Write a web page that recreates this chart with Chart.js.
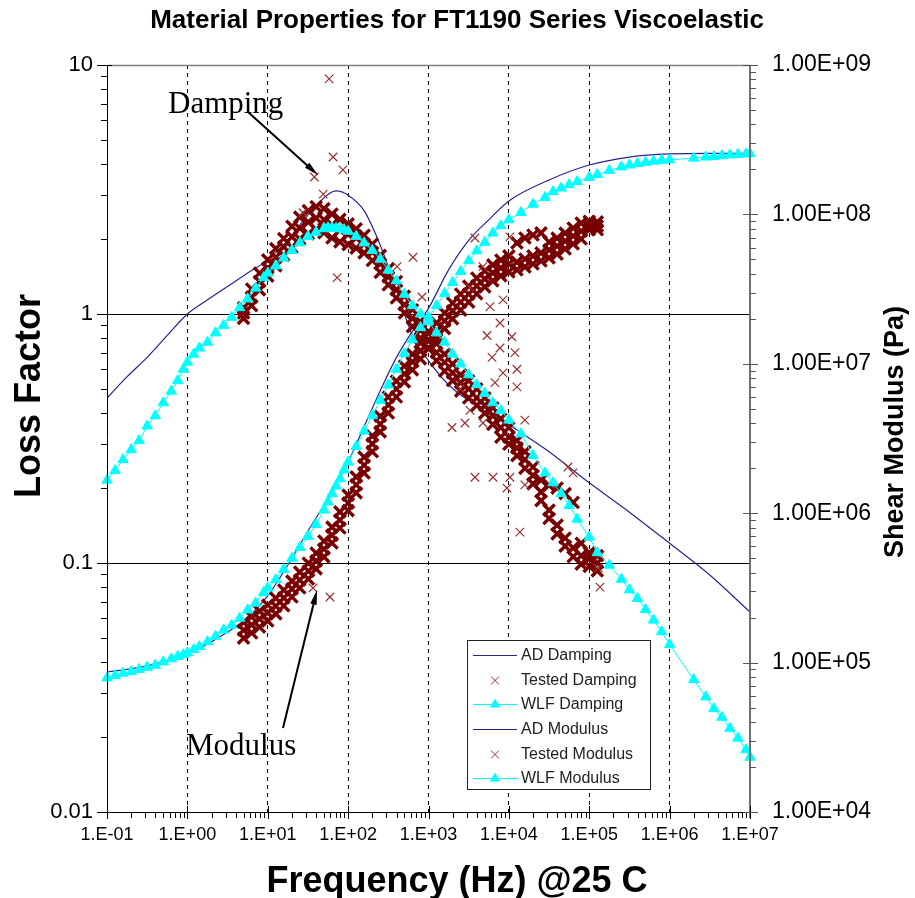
<!DOCTYPE html>
<html><head><meta charset="utf-8">
<script src="https://cdn.jsdelivr.net/npm/chart.js@4.4.0/dist/chart.umd.min.js"></script>
<style>html,body{margin:0;padding:0;background:#fff}#wrap{width:915px;height:898px}</style>
</head><body><div id="wrap"><canvas id="c" width="915" height="898"></canvas></div>
<script>
// ---------- tick labels ----------
const xTickValues = [1e-1, 1e0, 1e1, 1e2, 1e3, 1e4, 1e5, 1e6, 1e7];
const xTickLabels = ['1.E-01','1.E+00','1.E+01','1.E+02','1.E+03','1.E+04','1.E+05','1.E+06','1.E+07'];
const lfTickValues = [0.01, 0.1, 1, 10];
const lfTickLabels = ['0.01','0.1','1','10'];
const gTickValues = [1e4, 1e5, 1e6, 1e7, 1e8, 1e9];
const gTickLabels = ['1.00E+04','1.00E+05','1.00E+06','1.00E+07','1.00E+08','1.00E+09'];
const minorSteps = [2,3,4,5,6,7,8,9];

// ---------- AD (analytical) curves ----------
const adHz = [0.1,0.178,0.316,0.562,1,1.78,3.16,5.62,10,17.8,31.6,56.2,70.8,100,158,251,398,631,1000,1778,3162,5623,1e4,31623,1e5,316228,1e6,3.16e6,1e7];
const adDamping = [0.46,0.56,0.67,0.82,1.0,1.14,1.29,1.46,1.65,1.98,2.5,3.02,3.12,3.0,2.6,1.89,1.25,0.82,0.65,0.52,0.45,0.41,0.36,0.28,0.21,0.16,0.12,0.0895,0.0635];
const adModulus = [8.65e4,9.0e4,9.5e4,1.03e5,1.14e5,1.33e5,1.6e5,2.0e5,2.8e5,4.5e5,7.6e5,1.25e6,1.55e6,2.2e6,3.8e6,6.6e6,1.1e7,1.65e7,2.35e7,4.25e7,6.7e7,9.2e7,1.23e8,1.7e8,2.14e8,2.42e8,2.54e8,2.56e8,2.56e8];

// ---------- WLF curves ----------
const wlfHz = [0.1,0.126,0.158,0.2,0.251,0.316,0.398,0.501,0.631,0.759,0.891,1,1.2,1.41,1.78,2.24,2.82,3.55,4.47,5.62,7.08,8.91,10,12.6,15.8,20,25.1,31.6,39.8,50.1,56.2,63.1,70.8,79.4,89.1,100,126,158,200,251,316,398,501,631,794,1000,1259,1585,1995,2512,3162,3981,5012,6310,7943,1e4,14125,19953,28184,35481,44668,56234,70795,1e5,125893,177828,251189,316228,398107,501187,630957,794328,1e6,1.995e6,2.818e6,3.548e6,4.467e6,5.623e6,7.079e6,8.913e6,1e7];
const wlfDamping = [0.215,0.235,0.26,0.285,0.31,0.355,0.39,0.44,0.49,0.54,0.6,0.64,0.69,0.73,0.77,0.84,0.9,0.97,1.06,1.15,1.27,1.4,1.46,1.56,1.68,1.8,1.93,2.05,2.13,2.2,2.22,2.22,2.21,2.2,2.18,2.15,2.05,1.93,1.8,1.66,1.5,1.36,1.2,1.08,1.0,0.93,0.84,0.77,0.69,0.63,0.57,0.52,0.48,0.44,0.41,0.375,0.33,0.27,0.23,0.21,0.19,0.17,0.15,0.127,0.11,0.098,0.086,0.078,0.072,0.065,0.059,0.053,0.047,0.034,0.029,0.026,0.024,0.0217,0.0198,0.0178,0.0166];
const wlfModulus = [7.9e4,8.2e4,8.5e4,8.7e4,9.0e4,9.3e4,9.6e4,1.01e5,1.06e5,1.1e5,1.13e5,1.16e5,1.22e5,1.28e5,1.38e5,1.5e5,1.65e5,1.78e5,1.98e5,2.25e5,2.5e5,2.95e5,3.16e5,3.6e5,4.2e5,5.0e5,5.9e5,7.0e5,8.4e5,1.05e6,1.19e6,1.35e6,1.52e6,1.7e6,1.95e6,2.2e6,2.8e6,3.55e6,4.5e6,5.7e6,7.2e6,9.2e6,1.17e7,1.45e7,1.75e7,2.05e7,2.45e7,2.95e7,3.5e7,4.15e7,4.9e7,5.7e7,6.5e7,7.5e7,8.4e7,9.2e7,1.03e8,1.17e8,1.3e8,1.42e8,1.5e8,1.58e8,1.66e8,1.77e8,1.85e8,1.97e8,2.08e8,2.14e8,2.19e8,2.23e8,2.27e8,2.3e8,2.32e8,2.38e8,2.42e8,2.44e8,2.47e8,2.5e8,2.52e8,2.54e8,2.55e8];

// ---------- Tested data (dense band: upper / middle / lower readings) ----------
const testedHz = [5.0,6.3,7.9,10,12.6,15.8,20,25,32,40,50,63,79,100,126,158,200,251,316,398,501,631,794,1000,1259,1585,1995,2512,3162,3981,5012,6310,7943,10000,12589,15849,19953,25119,31623,39811,50119,63096,79433,100000,125893];
const testedDampingMid = [1.01,1.17,1.35,1.53,1.69,1.86,2.04,2.21,2.34,2.43,2.39,2.28,2.17,2.09,2.02,1.91,1.77,1.59,1.41,1.25,1.09,0.96,0.86,0.79,0.70,0.64,0.58,0.53,0.50,0.46,0.43,0.39,0.35,0.32,0.29,0.26,0.225,0.193,0.163,0.142,0.126,0.115,0.107,0.104,0.100];
const testedDampingUpper = [1.06,1.26,1.46,1.65,1.83,2.01,2.25,2.45,2.6,2.7,2.65,2.52,2.4,2.3,2.2,2.07,1.91,1.72,1.52,1.35,1.18,1.04,0.93,0.85,0.76,0.69,0.63,0.57,0.54,0.50,0.46,0.42,0.38,0.35,0.31,0.28,0.243,0.215,0.205,0.2,0.19,0.175,0.12,0.11,0.107];
const testedDampingLower = [0.96,1.08,1.25,1.42,1.56,1.72,1.85,2.0,2.1,2.18,2.12,2.02,1.95,1.9,1.84,1.76,1.64,1.47,1.31,1.16,1.01,0.89,0.80,0.73,0.65,0.59,0.54,0.49,0.46,0.43,0.40,0.36,0.32,0.30,0.27,0.24,0.208,0.178,0.151,0.131,0.117,0.106,0.099,0.097,0.093];
const testedModulusMid = [1.65e5,1.79e5,1.96e5,2.15e5,2.39e5,2.71e5,3.11e5,3.57e5,4.1e5,4.79e5,5.76e5,7.14e5,9.0e5,1.17e6,1.55e6,2.1e6,2.91e6,3.95e6,5.3e6,6.78e6,8.55e6,1.03e7,1.22e7,1.42e7,1.66e7,1.94e7,2.26e7,2.59e7,2.93e7,3.32e7,3.7e7,4.06e7,4.38e7,4.66e7,4.8e7,5.03e7,5.27e7,5.52e7,5.78e7,6.14e7,6.63e7,7.17e7,7.74e7,8.36e7,8.36e7];
const testedModulusUpper = [1.86e5,2.02e5,2.21e5,2.43e5,2.7e5,3.06e5,3.51e5,4.03e5,4.63e5,5.41e5,6.51e5,8.07e5,1.02e6,1.32e6,1.75e6,2.37e6,3.29e6,4.46e6,5.99e6,7.66e6,9.66e6,1.16e7,1.38e7,1.6e7,1.88e7,2.19e7,2.55e7,2.93e7,3.31e7,3.75e7,4.18e7,4.59e7,4.95e7,5.27e7,6.44e7,6.95e7,7.28e7,7.52e7,6.53e7,6.94e7,7.49e7,8.1e7,8.75e7,9.0e7,8.9e7];
const testedModulusLower = [1.46e5,1.58e5,1.73e5,1.9e5,2.12e5,2.4e5,2.75e5,3.16e5,3.63e5,4.24e5,5.1e5,6.32e5,7.96e5,1.04e6,1.37e6,1.86e6,2.58e6,3.5e6,4.69e6,6.0e6,7.57e6,9.12e6,1.08e7,1.26e7,1.47e7,1.72e7,2.0e7,2.29e7,2.59e7,2.94e7,3.27e7,3.59e7,3.88e7,4.12e7,4.25e7,4.45e7,4.66e7,4.88e7,5.12e7,5.43e7,5.87e7,6.35e7,6.85e7,7.9e7,7.9e7];

// scattered tested readings
const dampingScatterHz = [58,65,86,38,49,73,641,406,830,27.5,3785,10300,4750,3280,5820,8450,7760,5350,10900,11900,7760,6170,8450,12600,12600,6710,2470,3280,1960,2840,4760,15800,3790,6340,10300,9460,13700,15800,54300,62800,136000,129000,136000];
const dampingScatterLF = [8.8,4.27,3.79,3.55,3.03,1.40,1.69,1.55,1.17,2.55,2.02,2.04,1.55,1.28,1.07,1.14,0.92,0.82,0.81,0.70,0.73,0.67,0.58,0.60,0.51,0.53,0.50,0.41,0.35,0.365,0.365,0.375,0.221,0.221,0.221,0.20,0.133,0.206,0.243,0.23,0.080,0.0955,0.107];
const modulusScatterHz = [36.6,59.4];
const modulusScatterG = [3.16e5,2.75e5];

// ---------- build datasets ----------
const pts = (xs, ys) => xs.map((x, i) => ({x, y: ys[i]}));
const band = (xs, a, b, c) => pts(xs, a).concat(pts(xs, b), pts(xs, c));
const BAND_N = testedHz.length * 3;

const NAVY = '#26268f', CYAN = '#00ffff', MAROON = '#780000', MAROON_LIGHT = '#9a3030';
const seriesNames = ['AD Damping','Tested Damping','WLF Damping','AD Modulus','Tested Modulus','WLF Modulus'];
const inBand = c => c.dataIndex < BAND_N;
const bandRadius = c => inBand(c) ? 8 : 6;
const bandWidth = c => inBand(c) ? 3.4 : 1.2;
const bandColor = c => inBand(c) ? MAROON : MAROON_LIGHT;

const datasets = [
  {label: seriesNames[0], data: pts(adHz, adDamping), yAxisID: 'y', showLine: true, pointRadius: 0,
   borderColor: NAVY, borderWidth: 1.2, cubicInterpolationMode: 'monotone', order: 3},
  {label: seriesNames[1], data: band(testedHz, testedDampingMid, testedDampingUpper, testedDampingLower).concat(pts(dampingScatterHz, dampingScatterLF)),
   yAxisID: 'y', showLine: false, pointStyle: 'crossRot', pointRadius: bandRadius, pointBorderWidth: bandWidth,
   pointBorderColor: bandColor, borderColor: MAROON, backgroundColor: MAROON, order: 2, clip: false},
  {label: seriesNames[2], data: pts(wlfHz, wlfDamping), yAxisID: 'y', showLine: true, pointStyle: 'triangle', pointRadius: 6,
   borderColor: CYAN, backgroundColor: CYAN, pointBackgroundColor: CYAN, pointBorderColor: CYAN, borderWidth: 1, order: 1, clip: false},
  {label: seriesNames[3], data: pts(adHz, adModulus), yAxisID: 'y2', showLine: true, pointRadius: 0,
   borderColor: NAVY, borderWidth: 1.2, cubicInterpolationMode: 'monotone', order: 3},
  {label: seriesNames[4], data: band(testedHz, testedModulusMid, testedModulusUpper, testedModulusLower).concat(pts(modulusScatterHz, modulusScatterG)),
   yAxisID: 'y2', showLine: false, pointStyle: 'crossRot', pointRadius: bandRadius, pointBorderWidth: bandWidth,
   pointBorderColor: bandColor, borderColor: MAROON, backgroundColor: MAROON, order: 2, clip: false},
  {label: seriesNames[5], data: pts(wlfHz, wlfModulus), yAxisID: 'y2', showLine: true, pointStyle: 'triangle', pointRadius: 6,
   borderColor: CYAN, backgroundColor: CYAN, pointBackgroundColor: CYAN, pointBorderColor: CYAN, borderWidth: 1, order: 1, clip: false}
];

const SANS = '"Liberation Sans", Arial, Helvetica, sans-serif';
const SERIF = '"Liberation Serif", "Times New Roman", serif';

function arrow(ctx, x1, y1, x2, y2) {
  ctx.save();
  ctx.strokeStyle = '#000'; ctx.fillStyle = '#000'; ctx.lineWidth = 2;
  const a = Math.atan2(y2 - y1, x2 - x1), L = 15, s = 0.22;
  ctx.beginPath(); ctx.moveTo(x1, y1); ctx.lineTo(x2 - Math.cos(a) * 8, y2 - Math.sin(a) * 8); ctx.stroke();
  ctx.beginPath(); ctx.moveTo(x2, y2);
  ctx.lineTo(x2 - L * Math.cos(a - s), y2 - L * Math.sin(a - s));
  ctx.lineTo(x2 - L * Math.cos(a + s), y2 - L * Math.sin(a + s));
  ctx.closePath(); ctx.fill();
  ctx.restore();
}

const decor = {
  id: 'decor',
  afterDatasetsDraw(chart) {
    const ctx = chart.ctx, a = chart.chartArea;
    const xs = chart.scales.x, ys = chart.scales.y, y2 = chart.scales.y2;
    ctx.save();
    // frame
    ctx.lineWidth = 1.5; ctx.strokeStyle = '#808080';
    ctx.beginPath(); ctx.moveTo(a.left, a.top + 0.5); ctx.lineTo(a.right, a.top + 0.5); ctx.stroke();
    ctx.lineWidth = 2; ctx.strokeStyle = '#707070';
    ctx.beginPath(); ctx.moveTo(a.right, a.top); ctx.lineTo(a.right, a.bottom + 6); ctx.stroke();
    ctx.lineWidth = 1; ctx.strokeStyle = '#000';
    ctx.beginPath(); ctx.moveTo(a.left + 0.5, a.top); ctx.lineTo(a.left + 0.5, a.bottom); ctx.stroke();
    ctx.beginPath(); ctx.moveTo(a.left - 6, a.bottom + 0.5); ctx.lineTo(a.right, a.bottom + 0.5); ctx.stroke();
    // ticks
    ctx.beginPath();
    lfTickValues.forEach((v, i) => {
      const y = Math.round(ys.getPixelForValue(v)) + 0.5;
      ctx.moveTo(a.left - 10, y); ctx.lineTo(a.left + 5, y);
      if (i < lfTickValues.length - 1) minorSteps.forEach(m => {
        const yy = Math.round(ys.getPixelForValue(v * m)) + 0.5;
        ctx.moveTo(a.left - 6, yy); ctx.lineTo(a.left, yy);
      });
    });
    xTickValues.forEach((v, i) => {
      const x = Math.round(xs.getPixelForValue(v)) + 0.5;
      ctx.moveTo(x, a.bottom - 6); ctx.lineTo(x, a.bottom + 7);
      if (i < xTickValues.length - 1) minorSteps.forEach(m => {
        const xx = Math.round(xs.getPixelForValue(v * m)) + 0.5;
        ctx.moveTo(xx, a.bottom); ctx.lineTo(xx, a.bottom + 6);
      });
    });
    ctx.stroke();
    ctx.strokeStyle = '#555';
    ctx.beginPath();
    gTickValues.forEach((v, i) => {
      const y = Math.round(y2.getPixelForValue(v)) + 0.5;
      ctx.moveTo(a.right - 7, y); ctx.lineTo(a.right + 8, y);
      if (i < gTickValues.length - 1) minorSteps.forEach(m => {
        const yy = Math.round(y2.getPixelForValue(v * m)) + 0.5;
        ctx.moveTo(a.right, yy); ctx.lineTo(a.right + 6, yy);
      });
    });
    ctx.stroke();
    ctx.restore();
  },
  afterDraw(chart) {
    const ctx = chart.ctx;
    ctx.save();
    ctx.fillStyle = '#000';
    // title
    ctx.font = 'bold 26px ' + SANS; ctx.textAlign = 'center'; ctx.textBaseline = 'alphabetic';
    ctx.fillText('Material Properties for FT1190 Series Viscoelastic', 457, 28);
    // x axis title
    ctx.font = 'bold 36px ' + SANS;
    ctx.fillText('Frequency (Hz) @25 C', 457, 892);
    // left axis title
    ctx.save(); ctx.translate(40, 396); ctx.rotate(-Math.PI / 2);
    ctx.font = 'bold 36px ' + SANS; ctx.fillText('Loss Factor', 0, 0); ctx.restore();
    // right axis title
    ctx.save(); ctx.translate(903, 432); ctx.rotate(-Math.PI / 2);
    ctx.font = 'bold 27px ' + SANS; ctx.fillText('Shear Modulus (Pa)', 0, 0); ctx.restore();
    // annotations
    ctx.font = '31px ' + SERIF; ctx.textAlign = 'left';
    ctx.fillText('Damping', 168, 113);
    ctx.fillText('Modulus', 186, 755);
    arrow(ctx, 248, 112, 318, 175);
    arrow(ctx, 283, 728, 317, 590);
    // legend
    const L = {x: 467, y: 640, w: 183, h: 149};
    ctx.fillStyle = '#fff'; ctx.fillRect(L.x, L.y, L.w, L.h);
    ctx.strokeStyle = '#222'; ctx.lineWidth = 1;
    ctx.strokeRect(L.x + 0.5, L.y + 0.5, L.w, L.h);
    const rows = [655, 680, 704, 729, 754, 778];
    ctx.font = '16px ' + SANS; ctx.textBaseline = 'middle';
    chart.data.datasets.forEach((ds, i) => {
      const y = rows[i] + 0.5;
      if (ds.showLine) {
        ctx.strokeStyle = ds.borderColor; ctx.lineWidth = ds.borderWidth;
        ctx.beginPath(); ctx.moveTo(473, y); ctx.lineTo(517, y); ctx.stroke();
      }
      if (ds.pointStyle === 'triangle') {
        const r = 6;
        ctx.fillStyle = CYAN; ctx.beginPath();
        ctx.moveTo(495, y - r); ctx.lineTo(495 + r * 0.866, y + r * 0.5); ctx.lineTo(495 - r * 0.866, y + r * 0.5);
        ctx.closePath(); ctx.fill();
      } else if (ds.pointStyle === 'crossRot') {
        ctx.strokeStyle = '#a03030'; ctx.lineWidth = 1; const r = 4;
        ctx.beginPath(); ctx.moveTo(495 - r, y - r); ctx.lineTo(495 + r, y + r);
        ctx.moveTo(495 + r, y - r); ctx.lineTo(495 - r, y + r); ctx.stroke();
      }
      ctx.fillStyle = '#222';
      ctx.fillText(ds.label, 521, y);
    });
    ctx.restore();
  }
};

new Chart(document.getElementById('c'), {
  type: 'scatter',
  data: {datasets},
  options: {
    responsive: false, animation: false, devicePixelRatio: 1,
    layout: {padding: {top: 65, left: 0, right: 0, bottom: 0}},
    plugins: {legend: {display: false}, title: {display: false}, tooltip: {enabled: false}},
    scales: {
      x: {
        type: 'logarithmic', position: 'bottom', min: 0.1, max: 1e7,
        afterBuildTicks: s => { s.ticks = xTickValues.map(v => ({value: v})); },
        afterFit: s => { s.height = 86; },
        ticks: {autoSkip: false, maxRotation: 0, minRotation: 0, padding: 12, color: '#000',
                font: {family: SANS, size: 18}, callback: (v, i) => xTickLabels[i]},
        grid: {drawTicks: false, lineWidth: 1,
               color: c => (c.index > 0 && c.index < xTickValues.length - 1) ? '#000' : 'rgba(0,0,0,0)'},
        border: {display: false, dash: [4, 4]}
      },
      y: {
        type: 'logarithmic', position: 'left', min: 0.01, max: 10,
        afterBuildTicks: s => { s.ticks = lfTickValues.map(v => ({value: v})); },
        afterFit: s => { s.width = 107; },
        ticks: {autoSkip: false, padding: 14, color: '#000', font: {family: SANS, size: 22},
                callback: (v, i) => lfTickLabels[i]},
        grid: {drawTicks: false, lineWidth: 1,
               color: c => (c.index > 0 && c.index < lfTickValues.length - 1) ? '#000' : 'rgba(0,0,0,0)'},
        border: {display: false}
      },
      y2: {
        type: 'logarithmic', position: 'right', min: 1e4, max: 1e9,
        afterBuildTicks: s => { s.ticks = gTickValues.map(v => ({value: v})); },
        afterFit: s => { s.width = 165; },
        ticks: {autoSkip: false, padding: 22, color: '#000', font: {family: SANS, size: 23},
                callback: (v, i) => gTickLabels[i]},
        grid: {display: false, drawTicks: false},
        border: {display: false}
      }
    }
  },
  plugins: [decor]
});
</script>
</body></html>
